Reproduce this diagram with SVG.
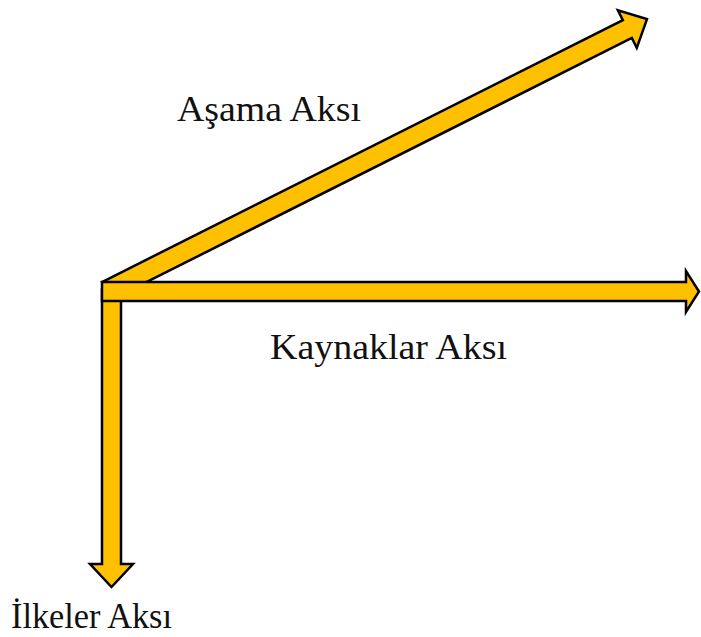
<svg xmlns="http://www.w3.org/2000/svg" width="701" height="637" viewBox="0 0 701 637">
<style>
.ar{fill:#FFC000;stroke:#000;stroke-width:2.5;stroke-linejoin:miter}
.lb{font-family:"Liberation Serif","Times New Roman",serif;font-size:35px;fill:#111}
</style>
<rect width="701" height="637" fill="#fff"/>
<g id="connectors">
<g id="asama-arrow" transform="translate(106.5,291) rotate(-26.7)">
<polygon class="ar" points="0,-10 583,-10 583,-21 605,0 583,21 583,10 0,10"/>
</g>
<polygon id="ilkeler-arrow" class="ar" points="102,290 121,290 121,564 133,564 111.5,587 90,564 102,564"/>
<polygon id="kaynaklar-arrow" class="ar" points="102,282 686,282 686,271 699,291.5 686,312 686,301 102,301"/>
</g>
<g id="label-asama"><text class="lb" x="177" y="121" textLength="184" lengthAdjust="spacingAndGlyphs">Aşama Aksı</text></g>
<g id="label-kaynaklar"><text class="lb" x="270" y="359" textLength="237" lengthAdjust="spacingAndGlyphs">Kaynaklar Aksı</text></g>
<g id="label-ilkeler"><text class="lb" x="11" y="628" textLength="161" lengthAdjust="spacingAndGlyphs">İlkeler Aksı</text></g>
</svg>
